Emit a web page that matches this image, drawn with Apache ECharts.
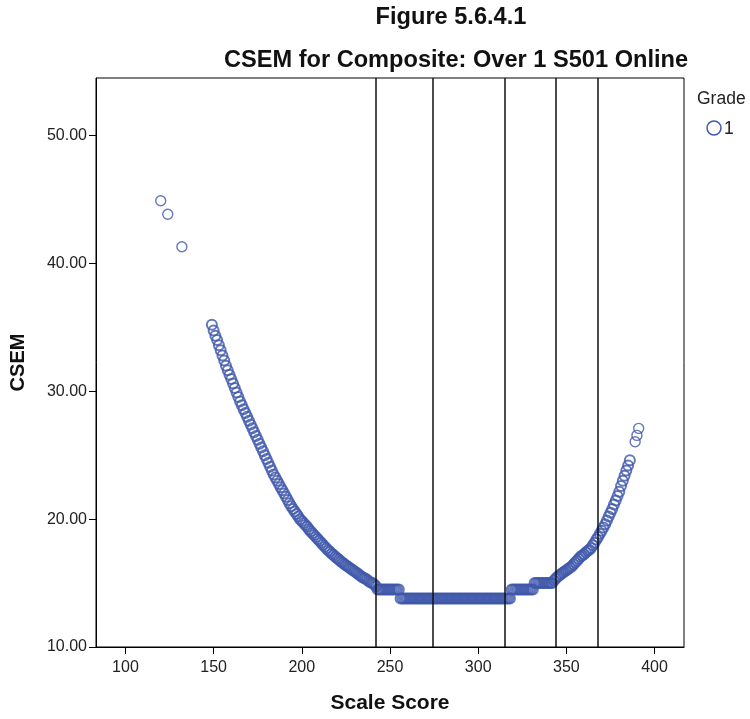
<!DOCTYPE html>
<html><head><meta charset="utf-8">
<script src="https://cdn.jsdelivr.net/npm/echarts@6/dist/echarts.min.js"></script>
<style>html,body{margin:0;padding:0;background:#fff}#c{width:750px;height:719px}</style>
</head><body><div id="c"></div>
<script>
const xTicks = [100, 150, 200, 250, 300, 350, 400];
const yTicks = [10, 20, 30, 40, 50];
const cutScores = [242, 274, 315, 344, 368];
const isolatedScores = [120, 124, 132];
const isolatedCsem = [44.9, 43.85, 41.3];
const mainStartScore = 149; // consecutive scores 149 .. 386
const mainCsem = [
  35.2, 34.75, 34.35, 34.0, 33.6, 33.2, 32.8, 32.4, 32.0, 31.65,
  31.3, 30.95, 30.6, 30.25, 29.9, 29.55, 29.2, 28.9, 28.6, 28.3,
  28.0, 27.7, 27.4, 27.1, 26.8, 26.5, 26.2, 25.9, 25.6, 25.3,
  25.0, 24.7, 24.4, 24.1, 23.8, 23.5, 23.25, 23.0, 22.75, 22.5,
  22.25, 22.0, 21.75, 21.5, 21.25, 21.0, 20.8, 20.6, 20.4, 20.2,
  20.0, 19.85, 19.7, 19.55, 19.4, 19.2, 19.05, 18.9, 18.75, 18.6,
  18.45, 18.3, 18.15, 18.0, 17.85, 17.7, 17.55, 17.45, 17.3, 17.2,
  17.05, 16.95, 16.85, 16.7, 16.6, 16.5, 16.4, 16.3, 16.2, 16.1,
  16.0, 15.9, 15.8, 15.7, 15.6, 15.5, 15.4, 15.35, 15.25, 15.15,
  15.05, 15.0, 14.9, 14.75, 14.5, 14.5, 14.5, 14.5, 14.5, 14.5,
  14.5, 14.5, 14.5, 14.5, 14.5, 14.5, 14.5, 13.8, 13.8, 13.8,
  13.8, 13.8, 13.8, 13.8, 13.8, 13.8, 13.8, 13.8, 13.8, 13.8,
  13.8, 13.8, 13.8, 13.8, 13.8, 13.8, 13.8, 13.8, 13.8, 13.8,
  13.8, 13.8, 13.8, 13.8, 13.8, 13.8, 13.8, 13.8, 13.8, 13.8,
  13.8, 13.8, 13.8, 13.8, 13.8, 13.8, 13.8, 13.8, 13.8, 13.8,
  13.8, 13.8, 13.8, 13.8, 13.8, 13.8, 13.8, 13.8, 13.8, 13.8,
  13.8, 13.8, 13.8, 13.8, 13.8, 13.8, 13.8, 13.8, 13.8, 13.8,
  14.5, 14.5, 14.5, 14.5, 14.5, 14.5, 14.5, 14.5, 14.5, 14.5,
  14.5, 14.5, 14.5, 15.0, 15.0, 15.0, 15.0, 15.0, 15.0, 15.0,
  15.0, 15.0, 15.0, 15.0, 15.2, 15.35, 15.5, 15.6, 15.7, 15.8,
  15.9, 16.0, 16.1, 16.2, 16.3, 16.45, 16.6, 16.75, 16.9, 17.05,
  17.15, 17.25, 17.4, 17.5, 17.6, 17.75, 17.95, 18.15, 18.4, 18.6,
  18.85, 19.1, 19.35, 19.6, 19.9, 20.2, 20.5, 20.8, 21.15, 21.45,
  21.8, 22.15, 22.6, 23.0, 23.4, 23.8, 24.2, 24.6
];
const tailScores = [389, 390, 391];
const tailCsem = [26.05, 26.55, 27.1];

const sparsePoints = [];
isolatedScores.forEach((s, i) => sparsePoints.push([s, isolatedCsem[i]]));
tailScores.forEach((s, i) => sparsePoints.push([s, tailCsem[i]]));
const densePoints = mainCsem.map((v, i) => [mainStartScore + i, v]);

const blue = '#3e58aa';
const font = '"Liberation Sans", Arial, sans-serif';
const chart = echarts.init(document.getElementById('c'), null, {renderer: 'canvas'});
chart.setOption({
  animation: false,
  backgroundColor: '#fff',
  grid: {left: 96, right: 66, top: 78, bottom: 72, outerBoundsMode: 'none', containLabel: false,
    show: true, borderColor: '#000', borderWidth: 1, backgroundColor: 'transparent'},
  xAxis: {
    type: 'value', min: 83.3, max: 416.7,
    axisLine: {show: true, lineStyle: {color: '#000', width: 1}},
    axisTick: {show: true, length: 7, lineStyle: {color: '#000'}, customValues: xTicks},
    axisLabel: {customValues: xTicks, fontFamily: font, fontSize: 16, color: '#222', margin: 13},
    splitLine: {show: false},
    name: 'Scale Score', nameLocation: 'middle', nameGap: 46,
    nameTextStyle: {fontFamily: font, fontSize: 21, fontWeight: 'bold', color: '#111'}
  },
  yAxis: {
    type: 'value', min: 10, max: 54.5,
    axisLine: {show: true, lineStyle: {color: '#000', width: 1}},
    axisTick: {show: true, length: 7, lineStyle: {color: '#000'}, customValues: yTicks},
    axisLabel: {customValues: yTicks, fontFamily: font, fontSize: 16, color: '#222', margin: 9,
      formatter: v => v.toFixed(2)},
    splitLine: {show: false},
    name: 'CSEM', nameLocation: 'middle', nameGap: 68,
    nameTextStyle: {fontFamily: font, fontSize: 20, fontWeight: 'bold', color: '#111'}
  },
  series: [{
    type: 'scatter',
    data: densePoints,
    symbol: 'circle',
    symbolSize: 10,
    itemStyle: {color: 'rgba(0,0,0,0)', borderColor: blue, borderWidth: 2},
    markLine: {
      silent: true, symbol: 'none',
      label: {show: false},
      lineStyle: {color: '#111', width: 1.5, type: 'solid'},
      data: cutScores.map(v => ({xAxis: v}))
    }
  }, {
    type: 'scatter',
    data: sparsePoints,
    symbol: 'circle',
    symbolSize: 10,
    itemStyle: {color: 'rgba(0,0,0,0)', borderColor: blue, borderWidth: 1.4}
  }],
  graphic: [
    {type: 'text', x: 451, y: 17, style: {text: 'Figure 5.6.4.1', font: 'bold 23.6px ' + font, fill: '#111', textAlign: 'center', textVerticalAlign: 'middle'}},
    {type: 'text', x: 456, y: 60, style: {text: 'CSEM for Composite: Over 1 S501 Online', font: 'bold 23.6px ' + font, fill: '#111', textAlign: 'center', textVerticalAlign: 'middle'}},
    {type: 'text', x: 697, y: 99, style: {text: 'Grade', font: '17.5px ' + font, fill: '#222', textAlign: 'left', textVerticalAlign: 'middle'}},
    {type: 'circle', shape: {cx: 714, cy: 128, r: 7}, style: {fill: 'none', stroke: blue, lineWidth: 1.5}},
    {type: 'text', x: 724, y: 129, style: {text: '1', font: '17.5px ' + font, fill: '#222', textAlign: 'left', textVerticalAlign: 'middle'}}
  ]
});
</script></body></html>
